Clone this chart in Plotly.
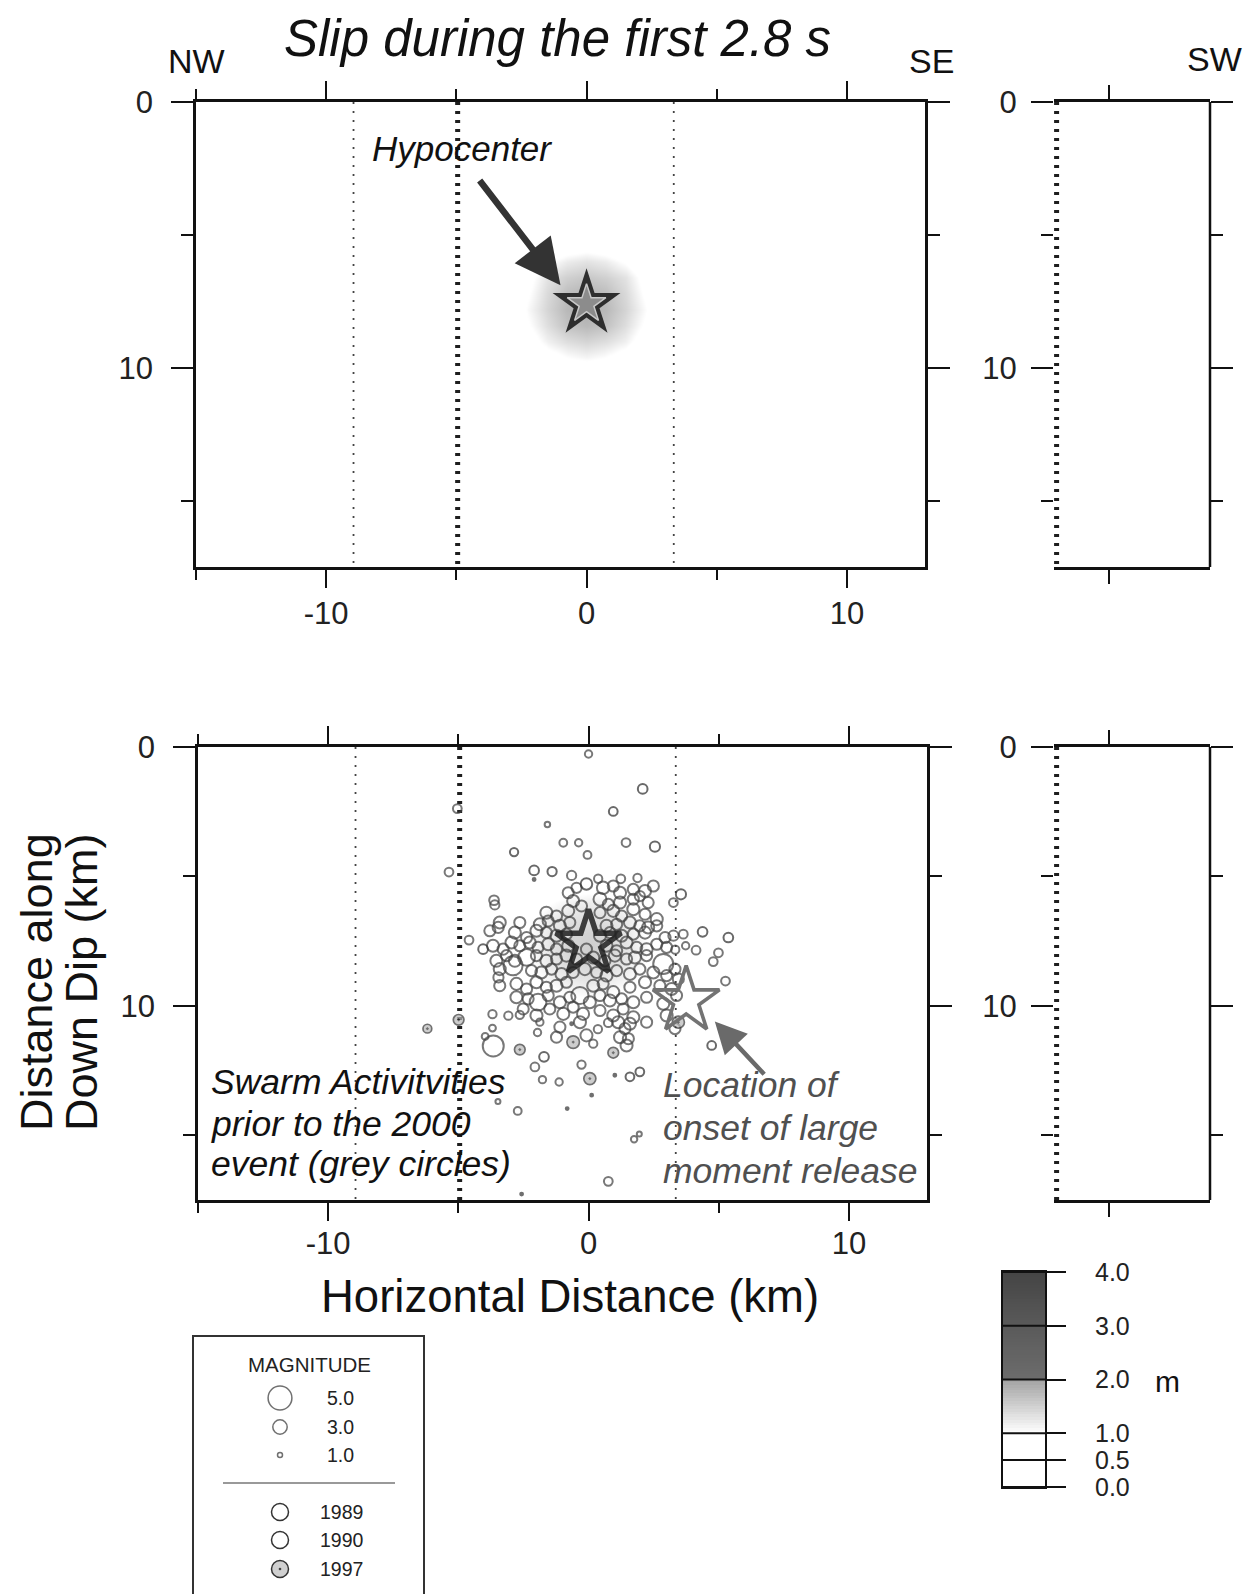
import numpy as np
import plotly.graph_objects as go

# the page body adds an 8 px margin: lay out in window pixels, shifted by OFF
W0, H0 = 1251, 1594
OFF = 8
W, H = W0 - OFF, H0 - OFF
FONT = "Liberation Sans, Arial, Helvetica, sans-serif"

# ---------------- data ----------------
fault_bounds_x = [-8.95, -4.95, 3.35]          # segment boundaries (km)
fault_styles = ["thin", "thick", "thin"]
side_bound_x = [0.0]                             # boundary on the SW section
hypo_x, hypo_y = [0.0], [7.6]                    # hypocenter
onset_x, onset_y = [3.75], [9.8]                 # onset of large moment release

x_ticks = [-10, 0, 10]
x_tick_labels = ["-10", "0", "10"]
y_ticks = [0, 10]
y_tick_labels = ["0", "10"]

# slip during the first 2.8 s (m)
slip_x = [-3.0, -2.25, -1.5, -0.75, 0.0, 0.75, 1.5, 2.25, 3.0]
slip_y = [5.4, 6.0, 6.6, 7.2, 7.8, 8.4, 9.0, 9.6, 10.2]
slip_z = [
    [0.2, 0.3, 0.5, 0.7, 0.8, 0.7, 0.5, 0.3, 0.2],
    [0.3, 0.6, 0.95, 1.2, 1.3, 1.2, 0.95, 0.6, 0.3],
    [0.4, 0.85, 1.3, 1.5, 1.6, 1.5, 1.3, 0.85, 0.4],
    [0.5, 0.95, 1.4, 1.7, 1.8, 1.7, 1.4, 0.95, 0.5],
    [0.5, 1.05, 1.45, 1.75, 1.85, 1.75, 1.45, 1.05, 0.5],
    [0.5, 0.95, 1.35, 1.65, 1.75, 1.65, 1.35, 0.95, 0.5],
    [0.4, 0.75, 1.15, 1.35, 1.45, 1.35, 1.15, 0.75, 0.4],
    [0.3, 0.5, 0.8, 1.0, 1.1, 1.0, 0.8, 0.5, 0.3],
    [0.2, 0.3, 0.4, 0.6, 0.6, 0.6, 0.4, 0.3, 0.2],
]

# swarm earthquakes (x km, depth km, magnitude)
quakes_1989 = [
    (0.00, 0.27, 1.5), (-1.58, 2.99, 1.1), (-0.97, 3.70, 1.6), (-0.38, 3.70, 1.5),
    (-0.04, 4.17, 1.6), (1.44, 3.69, 1.8), (-5.04, 2.38, 1.8), (-5.36, 4.83, 1.8),
    (-0.65, 4.96, 1.9), (0.37, 5.09, 1.7), (1.24, 5.09, 1.8), (1.88, 5.06, 1.7),
    (3.26, 6.01, 1.8), (-3.63, 5.92, 2.0), (-3.60, 6.10, 1.9), (-4.59, 7.46, 1.8),
    (-3.46, 8.90, 2.1), (4.99, 7.95, 1.8), (4.79, 8.29, 1.8), (5.26, 9.04, 1.8),
    (3.33, 7.83, 1.7), (3.73, 7.68, 1.5), (4.13, 7.85, 1.8), (3.64, 7.23, 1.8),
    (-3.69, 10.32, 1.7), (-3.08, 10.38, 1.7), (-2.64, 10.35, 1.7), (-3.69, 10.86, 1.4),
    (-3.66, 11.55, 4.4), (-3.97, 11.18, 1.4), (-1.87, 10.63, 1.5), (-1.96, 11.03, 1.5),
    (-2.06, 12.36, 1.8), (-1.77, 12.85, 1.5), (-1.13, 12.94, 1.5), (-0.27, 12.27, 1.7),
    (0.18, 11.46, 1.7), (0.76, 10.65, 1.8), (0.36, 10.90, 1.7), (-3.48, 13.69, 1.0),
    (-2.72, 14.06, 1.6), (1.75, 15.15, 1.3), (1.95, 14.95, 1.0), (0.76, 16.78, 1.8),
    (-0.78, 5.63, 2.3), (-0.46, 5.44, 2.1), (0.56, 5.44, 2.6), (0.95, 5.37, 2.3),
    (1.21, 5.63, 2.5), (1.72, 5.50, 2.3), (2.17, 5.56, 2.5), (2.49, 5.37, 2.3),
    (1.97, 5.76, 2.1), (-0.59, 5.95, 2.5), (-0.27, 6.14, 2.3), (0.44, 5.88, 2.7),
    (0.76, 6.08, 2.3), (1.21, 6.01, 2.5), (1.72, 5.88, 2.3), (2.29, 6.01, 2.3),
    (-1.62, 6.40, 2.5), (-1.23, 6.53, 2.3), (-0.78, 6.33, 2.5), (0.44, 6.40, 2.3),
    (0.95, 6.33, 2.5), (1.27, 6.53, 2.3), (1.72, 6.27, 2.5), (2.17, 6.46, 2.3),
    (2.62, 6.65, 2.5), (-3.41, 6.78, 2.5), (-3.47, 6.97, 2.3), (-2.64, 6.78, 2.3),
    (-1.87, 6.85, 2.5), (-1.55, 6.72, 2.3), (-1.10, 6.91, 2.5), (-0.72, 6.78, 2.3),
    (0.69, 6.91, 2.5), (1.08, 6.85, 2.3), (1.59, 6.78, 2.5), (1.97, 6.91, 2.3),
    (2.29, 6.97, 2.5), (2.62, 6.91, 2.3), (-3.79, 7.10, 2.3), (-2.83, 7.17, 2.5),
    (-2.38, 7.36, 2.3), (-2.00, 7.10, 2.5), (-1.62, 7.17, 2.3), (-1.23, 7.29, 2.5),
    (-0.85, 7.23, 2.3), (0.44, 7.29, 2.5), (0.82, 7.17, 2.3), (1.27, 7.29, 2.5),
    (1.72, 7.23, 2.3), (2.17, 7.17, 2.5), (2.94, 7.36, 2.3), (3.26, 7.29, 2.1),
    (-3.67, 7.68, 2.5), (-3.28, 7.81, 2.3), (-2.96, 7.55, 2.5), (-2.64, 7.68, 2.3),
    (-2.26, 7.55, 2.5), (-1.94, 7.74, 2.3), (-1.55, 7.62, 2.5), (-1.23, 7.81, 2.3),
    (-0.78, 7.68, 2.5), (-0.08, 7.81, 2.3), (0.69, 7.68, 2.5), (1.08, 7.87, 2.3),
    (1.46, 7.55, 2.5), (1.85, 7.74, 2.3), (2.23, 7.81, 2.5), (2.62, 7.62, 2.3),
    (3.00, 7.74, 2.3), (-3.54, 8.26, 2.5), (-3.15, 8.06, 2.3), (-2.83, 8.26, 2.5),
    (-2.38, 8.13, 3.5), (-2.00, 8.06, 2.3), (-1.62, 8.26, 2.5), (-1.23, 8.19, 2.3),
    (-0.85, 8.06, 2.5), (-0.46, 8.19, 2.3), (0.18, 8.13, 2.5), (0.63, 8.26, 2.3),
    (1.01, 8.06, 2.5), (1.46, 8.19, 2.3), (1.78, 8.13, 2.5), (2.23, 8.06, 2.3),
    (2.87, 8.38, 4.2), (-3.41, 8.58, 2.5), (-2.90, 8.45, 4.0), (-2.19, 8.64, 2.3),
    (-1.81, 8.71, 2.5), (-1.42, 8.58, 2.3), (-1.04, 8.77, 2.5), (-0.59, 8.71, 2.3),
    (-0.14, 8.58, 2.5), (0.31, 8.71, 2.3), (0.69, 8.83, 2.5), (1.08, 8.64, 2.3),
    (1.59, 8.77, 2.5), (1.97, 8.58, 2.3), (2.49, 8.71, 2.5), (3.00, 8.83, 2.3),
    (3.32, 8.58, 2.3), (-3.41, 9.22, 2.3), (-2.77, 9.15, 2.5), (-2.38, 9.35, 2.3),
    (-2.00, 9.09, 2.5), (-1.62, 9.28, 2.3), (-1.23, 9.22, 2.5), (-0.85, 9.09, 2.3),
    (-0.33, 9.60, 3.6), (0.18, 9.22, 2.5), (0.56, 9.15, 2.3), (0.95, 9.47, 2.5),
    (1.59, 9.28, 2.3), (2.17, 9.09, 2.5), (2.74, 9.22, 2.3), (3.19, 9.35, 2.5),
    (3.45, 8.96, 2.3), (-2.77, 9.67, 2.5), (-2.32, 9.73, 2.3), (-1.94, 9.86, 3.5),
    (-1.55, 9.60, 2.3), (-1.10, 9.86, 2.5), (-0.72, 9.67, 2.3), (0.05, 9.86, 2.5),
    (0.44, 9.60, 2.3), (0.82, 9.79, 2.5), (1.27, 9.73, 2.3), (1.72, 9.86, 2.5),
    (2.23, 9.67, 2.3), (2.87, 9.92, 2.5), (3.38, 9.60, 2.3), (-2.51, 10.12, 2.3),
    (-2.00, 10.37, 2.5), (-1.49, 10.12, 2.3), (-0.97, 10.31, 2.5), (-0.59, 10.05, 2.3),
    (-0.21, 10.31, 2.5), (0.44, 10.18, 2.3), (0.95, 10.37, 2.5), (1.33, 10.12, 2.3),
    (1.72, 10.44, 2.5), (2.23, 10.63, 2.3), (3.00, 10.37, 2.5), (-1.10, 10.82, 2.3),
    (-0.33, 10.63, 2.5), (1.14, 10.63, 2.5), (1.40, 10.88, 2.3), (1.59, 10.69, 2.5),
    (3.32, 10.88, 2.3), (-1.23, 11.21, 2.3), (-0.08, 11.14, 2.5), (1.21, 11.21, 2.5),
    (1.53, 11.27, 2.3), (1.46, 11.53, 2.5),
]
quakes_1990 = [
    (2.08, 1.62, 2.0), (0.95, 2.49, 1.8), (2.55, 3.85, 2.1), (-2.86, 4.06, 1.7),
    (-2.09, 4.77, 2.0), (-1.40, 4.81, 1.9), (3.55, 5.69, 2.1), (-0.08, 5.29, 2.4),
    (5.37, 7.36, 2.0), (4.38, 7.14, 2.0), (-4.05, 7.81, 2.0), (4.73, 11.53, 1.8),
    (1.59, 12.74, 1.8), (1.97, 12.55, 1.8), (-1.71, 11.97, 2.0),
]
quakes_1997 = [
    (-6.19, 10.88, 1.8), (-4.99, 10.54, 2.2), (-2.64, 11.69, 2.2), (-0.59, 11.40, 2.6),
    (0.05, 12.81, 2.5), (0.95, 11.81, 2.2), (3.45, 10.63, 2.5),
    (-2.09, 5.12, 0.6), (1.01, 12.68, 0.6), (0.12, 13.45, 0.6), (-0.65, 10.69, 0.6),
    (-2.57, 17.27, 0.6), (-0.82, 13.97, 0.6),
]

legend_mags = [5.0, 3.0, 1.0]
legend_years = ["1989", "1990", "1997"]
slip_levels = [0.0, 0.5, 1.0, 2.0, 3.0, 4.0]
slip_level_pos = [0, 1, 2, 4, 6, 8]

# ---------------- styling helpers ----------------
def msize(m):
    return 0.3 + 4.7 * np.asarray(m, dtype=float)

SLIP_CS = [[0.0, "#ffffff"], [0.25, "#ffffff"], [0.5, "#a2a2a2"],
           [0.5001, "#6c6c6c"], [0.75, "#5a5a5a"], [1.0, "#444444"]]

def dom_x(a, b):
    return [(a - OFF) / W, (b - OFF) / W]

def dom_y(top, bottom):
    return [1 - (bottom - OFF) / H, 1 - (top - OFF) / H]

fig = go.Figure()

# slip heatmaps
fig.add_trace(go.Heatmap(x=slip_x, y=slip_y, z=slip_z, zmin=0, zmax=4, colorscale=SLIP_CS,
                         zsmooth="best", showscale=False, xaxis="x", yaxis="y", hoverinfo="skip"))
fig.add_trace(go.Heatmap(x=slip_x, y=slip_y, z=slip_z, zmin=0, zmax=4, colorscale=SLIP_CS,
                         zsmooth="best", showscale=False, opacity=0.6, xaxis="x3", yaxis="y3",
                         hoverinfo="skip"))

# fault segment boundaries
line_style = {
    "thin": dict(color="#444444", width=1.8, dash="2px,7px"),
    "thick": dict(color="#1e1e1e", width=5, dash="3px,6px"),
}
for xa, ya in (("x", "y"), ("x3", "y3")):
    for bx, st in zip(fault_bounds_x, fault_styles):
        fig.add_trace(go.Scatter(x=[bx, bx], y=[0, 17.5], mode="lines", line=line_style[st],
                                 xaxis=xa, yaxis=ya, showlegend=False, hoverinfo="skip"))
for xa, ya in (("x2", "y2"), ("x4", "y4")):
    for bx in side_bound_x:
        fig.add_trace(go.Scatter(x=[bx, bx], y=[0, 17.5], mode="lines", line=line_style["thick"],
                                 xaxis=xa, yaxis=ya, showlegend=False, hoverinfo="skip"))

# earthquakes
def add_quakes(q, symbol, color, lcolor, lw):
    q = np.array(q)
    fig.add_trace(go.Scatter(x=q[:, 0], y=q[:, 1], mode="markers", xaxis="x3", yaxis="y3",
                             marker=dict(symbol=symbol, size=msize(q[:, 2]), color=color,
                                         line=dict(color=lcolor, width=lw)),
                             showlegend=False, hoverinfo="skip"))

add_quakes(quakes_1989, "circle-open", "#3e3e3e", "#3e3e3e", 2.0)
add_quakes(quakes_1990, "circle-open", "#2a2a2a", "#2a2a2a", 2.0)
add_quakes(quakes_1997, "circle-dot", "#b8b8b8", "#333333", 1.7)

# stars
fig.add_trace(go.Scatter(x=hypo_x, y=hypo_y, mode="markers", xaxis="x", yaxis="y",
                         marker=dict(symbol="star", size=51, color="#2e2e2e", line=dict(width=0)),
                         showlegend=False, hoverinfo="skip"))
fig.add_trace(go.Scatter(x=hypo_x, y=hypo_y, mode="markers", xaxis="x", yaxis="y",
                         marker=dict(symbol="star", size=29, color="#8c8c8c",
                                     line=dict(color="#c8c8c8", width=1.5)),
                         showlegend=False, hoverinfo="skip"))
fig.add_trace(go.Scatter(x=hypo_x, y=hypo_y, mode="markers", xaxis="x3", yaxis="y3",
                         marker=dict(symbol="star-open", size=49, color="rgba(30,30,30,0.85)",
                                     line=dict(color="rgba(30,30,30,0.85)", width=5.5)),
                         showlegend=False, hoverinfo="skip"))
fig.add_trace(go.Scatter(x=onset_x, y=onset_y, mode="markers", xaxis="x3", yaxis="y3",
                         marker=dict(symbol="star-open", size=50, color="#737373",
                                     line=dict(color="#737373", width=3.6)),
                         showlegend=False, hoverinfo="skip"))

# slip colour-scale legend (index axis with class boundaries)
leg_rows = np.arange(0.05, 8.0, 0.1)
leg_vals = np.interp(leg_rows, slip_level_pos, slip_levels)
fig.add_trace(go.Heatmap(x=[0.5], y=leg_rows, z=[[v] for v in leg_vals], zmin=0, zmax=4,
                         colorscale=SLIP_CS, showscale=False, xaxis="x5", yaxis="y5",
                         hoverinfo="skip"))

# magnitude / year legend
fig.add_trace(go.Scatter(x=[86] * 3, y=[61, 90, 118], mode="markers", xaxis="x6", yaxis="y6",
                         marker=dict(symbol="circle-open", size=msize(legend_mags), color="#333",
                                     line=dict(color="#333", width=1.5)),
                         showlegend=False, hoverinfo="skip"))
fig.add_trace(go.Scatter(x=[86, 86], y=[175, 203], mode="markers", xaxis="x6", yaxis="y6",
                         marker=dict(symbol="circle-open", size=17, color="#333",
                                     line=dict(color="#333", width=1.5)),
                         showlegend=False, hoverinfo="skip"))
fig.add_trace(go.Scatter(x=[86], y=[232], mode="markers", xaxis="x6", yaxis="y6",
                         marker=dict(symbol="circle-dot", size=17, color="#d0d0d0",
                                     line=dict(color="#333", width=1.5)),
                         showlegend=False, hoverinfo="skip"))

# ---------------- axes ----------------
minor_x = dict(ticks="outside", ticklen=10, tickwidth=2, tickcolor="#111", tickmode="linear",
               tick0=0, dtick=5, showgrid=False)
minor_y = dict(ticks="outside", ticklen=12, tickwidth=2, tickcolor="#111", tickmode="linear",
               tick0=0, dtick=5, showgrid=False)

def frame(**kw):
    d = dict(showline=True, linewidth=2.5, linecolor="#111", mirror="allticks",
             ticks="outside", tickwidth=2, tickcolor="#111", showgrid=False, zeroline=False,
             automargin=False, tickfont=dict(family=FONT, size=31, color="#222"))
    d.update(kw)
    return d

def plain(**kw):
    d = dict(showline=True, mirror=True, showgrid=False, zeroline=False, automargin=False)
    d.update(kw)
    return d

TOP = (102, 567)
BOT = (747, 1200)

xt = dict(tickmode="array", tickvals=x_ticks, ticktext=x_tick_labels)
yt = dict(tickmode="array", tickvals=y_ticks, ticktext=y_tick_labels)

fig.update_layout(
    template="none",
    xaxis=frame(domain=dom_x(196, 925), range=[-15, 13], anchor="y", **xt,
                ticklen=18, minor=minor_x, ticklabelstandoff=-1),
    yaxis=frame(domain=dom_y(*TOP), range=[17.5, 0], anchor="x", **yt,
                ticklen=22, minor=minor_y, ticklabelstandoff=12),
    xaxis2=frame(domain=dom_x(1054, 1210), range=[-0.1, 5.9], anchor="y2", tickmode="array",
                 tickvals=[2], ticklen=14, showticklabels=False),
    yaxis2=frame(domain=dom_y(*TOP), range=[17.5, 0], anchor="x2", showline=False, **yt,
                 ticklen=22, minor=minor_y, ticklabelstandoff=8),
    xaxis3=frame(domain=dom_x(198, 927), range=[-15, 13], anchor="y3", **xt,
                 ticklen=18, minor=minor_x, ticklabelstandoff=-4),
    yaxis3=frame(domain=dom_y(*BOT), range=[17.5, 0], anchor="x3", **yt,
                 ticklen=22, minor=minor_y, ticklabelstandoff=12),
    xaxis4=frame(domain=dom_x(1054, 1210), range=[-0.1, 5.9], anchor="y4", tickmode="array",
                 tickvals=[2], ticklen=14, showticklabels=False),
    yaxis4=frame(domain=dom_y(*BOT), range=[17.5, 0], anchor="x4", showline=False, **yt,
                 ticklen=22, minor=minor_y, ticklabelstandoff=8),
    xaxis5=plain(domain=dom_x(1003, 1045), range=[0, 1], anchor="y5", linewidth=2,
                 linecolor="#111", showticklabels=False, ticks=""),
    yaxis5=plain(domain=dom_y(1272, 1487), range=[0, 8], anchor="x5", side="right",
                 tickmode="array", tickvals=slip_level_pos,
                 ticktext=[f"{v:.1f}" for v in slip_levels],
                 ticks="outside", ticklen=19, tickwidth=2, tickcolor="#111",
                 linewidth=2, linecolor="#111",
                 tickfont=dict(family=FONT, size=25, color="#222"), ticklabelstandoff=24),
    xaxis6=plain(domain=dom_x(194, 423), range=[0, 229], anchor="y6", linewidth=1.5,
                 linecolor="#333", showticklabels=False, ticks=""),
    yaxis6=plain(domain=[0, 1 - (1337 - OFF) / H], range=[257, 0], anchor="x6", linewidth=1.5,
                 linecolor="#333", showticklabels=False, ticks=""),
)

# class boundary lines inside the slip legend
shapes = []
for p in slip_level_pos:
    shapes.append(dict(type="line", xref="x5 domain", yref="y5", x0=0, x1=1, y0=p, y1=p,
                       line=dict(color="#111", width=2)))
# solid outer (SW) border of the right-hand sections
for xa, ya in (("x2", "y2"), ("x4", "y4")):
    shapes.append(dict(type="line", xref=f"{xa} domain", yref=f"{ya} domain", x0=1, x1=1,
                       y0=0, y1=1, line=dict(color="#111", width=2.5)))
# separator in magnitude legend
shapes.append(dict(type="line", xref="x6", yref="y6", x0=29, x1=201, y0=146, y1=146,
                   line=dict(color="#777", width=1.5)))

def pann(text, px, py, size, color="#111", xanchor="center", angle=0, yanchor="middle"):
    return dict(text=text, x=(px - OFF) / W, y=1 - (py - OFF) / H, xref="paper", yref="paper",
                showarrow=False, font=dict(family=FONT, size=size, color=color),
                xanchor=xanchor, yanchor=yanchor, textangle=angle)

annotations = [
    pann("<i>Slip during the first 2.8 s</i>", 557, 8, 51, yanchor="top"),
    pann("NW", 196, 61, 34),
    pann("SE", 931, 61, 34),
    pann("SW", 1214, 59, 34),
    pann("<i>Hypocenter</i>", 462, 149, 35),
    pann("<i>Swarm Activitvities</i>", 209, 1082, 35.5, xanchor="left"),
    pann("<i>prior to the 2000</i>", 209, 1124, 35.5, xanchor="left"),
    pann("<i>event (grey circles)</i>", 209, 1164, 35.5, xanchor="left"),
    pann("<i>Location of</i>", 661, 1085, 35.5, color="#505050", xanchor="left"),
    pann("<i>onset of large</i>", 661, 1128, 35.5, color="#505050", xanchor="left"),
    pann("<i>moment release</i>", 661, 1171, 35.5, color="#505050", xanchor="left"),
    pann("Horizontal Distance (km)", 570, 1296, 45.5),
    pann("Distance along", 36, 982, 45, angle=-90),
    pann("Down Dip (km)", 81, 982, 45, angle=-90),
    pann("m", 1167, 1381, 30),
    # arrows
    dict(x=-1.0, y=6.9, ax=-4.15, ay=2.9, xref="x", yref="y", axref="x", ayref="y", text="",
         showarrow=True, arrowhead=2, arrowsize=1.4, arrowwidth=6.5, arrowcolor="#333"),
    dict(x=4.85, y=10.6, ax=6.8, ay=12.7, xref="x3", yref="y3", axref="x3", ayref="y3", text="",
         showarrow=True, arrowhead=2, arrowsize=1.4, arrowwidth=4.5, arrowcolor="#6a6a6a"),
]
# legend texts
annotations.append(dict(text="MAGNITUDE", x=115, y=27, xref="x6", yref="y6", showarrow=False,
                        font=dict(family=FONT, size=20.5, color="#222")))
for m, yy in zip(legend_mags, [61, 90, 118]):
    annotations.append(dict(text=f"{m:.1f}", x=131, y=yy, xref="x6", yref="y6", showarrow=False,
                            xanchor="left", font=dict(family=FONT, size=19.5, color="#222")))
for yr, yy in zip(legend_years, [175, 203, 232]):
    annotations.append(dict(text=yr, x=124, y=yy, xref="x6", yref="y6", showarrow=False,
                            xanchor="left", font=dict(family=FONT, size=19.5, color="#222")))

fig.update_layout(
    width=W, height=H, margin=dict(l=0, r=0, t=0, b=0, pad=0, autoexpand=False),
    paper_bgcolor="white", plot_bgcolor="white", showlegend=False,
    font=dict(family=FONT, color="#222"),
    shapes=shapes, annotations=annotations,
)

fig.write_html("out.html")
